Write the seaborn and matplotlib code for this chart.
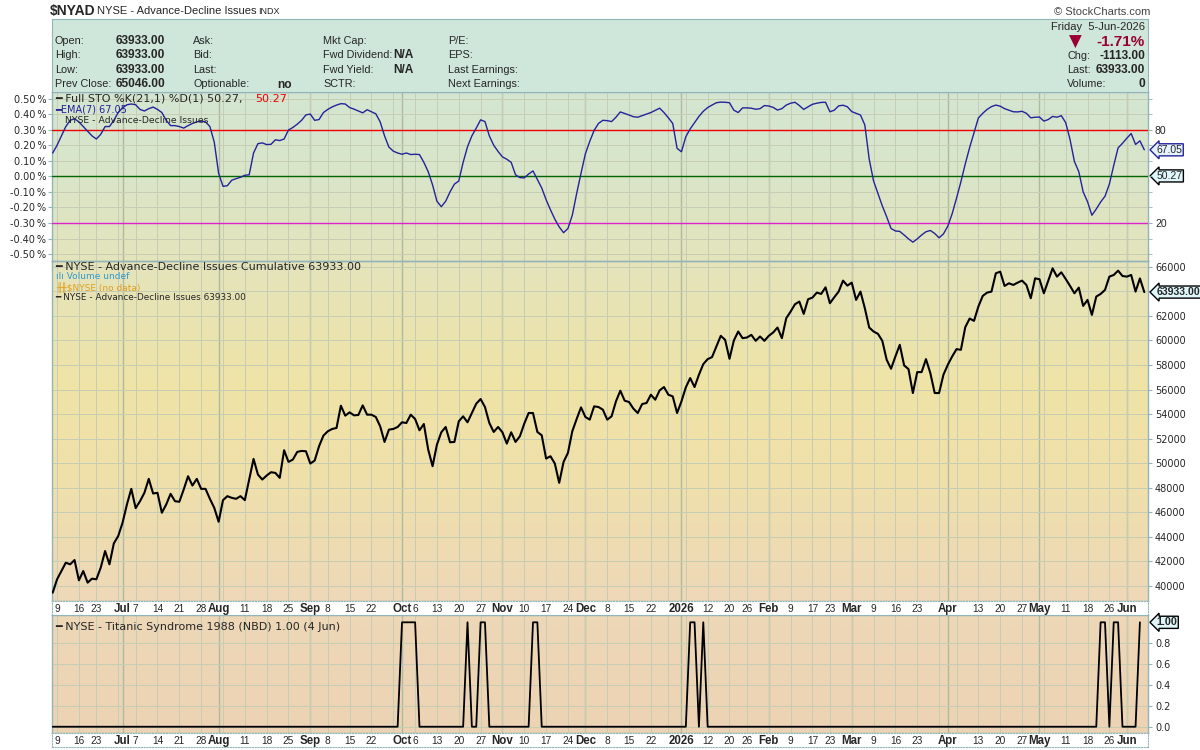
import numpy as np
import pandas as pd
import seaborn as sns
import matplotlib.pyplot as plt
from matplotlib.colors import LinearSegmentedColormap

sns.set_style("white")
plt.rcParams['font.family'] = ['Liberation Sans', 'DejaVu Sans']
DV = ['DejaVu Sans']

# NYSE trading days, 6-Jun-2025 .. 5-Jun-2026
holidays = ["2025-06-19", "2025-07-04", "2025-09-01", "2025-11-27", "2025-12-25",
            "2026-01-01", "2026-01-19", "2026-02-16", "2026-04-03", "2026-05-25"]
dates = pd.bdate_range("2025-06-06", "2026-06-05")
dates = dates[~dates.isin(pd.to_datetime(holidays))]

# cumulative advance-decline line
ad_line = [
    39460, 40547, 41222, 41900, 41766, 42118, 40466, 41222, 40276, 40600,
    40547, 41497, 42849, 41766, 43471, 44068, 45151, 46640, 47911, 46342,
    46910, 47588, 48724, 47533, 47588, 45966, 46640, 47507, 46910, 46857,
    47857, 48940, 48180, 48724, 47911, 47911, 47099, 46368, 45232, 46992,
    47317, 47181, 47099, 47317, 46992, 48670, 50350, 49077, 48670, 48995,
    49265, 49211, 48805, 51054, 50106, 50296, 50919, 51000, 50973, 49971,
    50215, 51380, 52246, 52598, 52788, 52869, 54683, 53871, 54141, 53898,
    53925, 54710, 53952, 53952, 53762, 53004, 51731, 52733, 52788, 52950,
    53329, 53275, 53952, 53600, 52679, 53193, 51108, 49754, 51514, 52517,
    52950, 51704, 51731, 53410, 53816, 53329, 54087, 54845, 55225, 54575,
    53275, 52544, 52950, 52517, 51596, 52517, 51731, 52192, 53221, 54087,
    54087, 52544, 52273, 50377,
    50567, 49971, 48400, 50106, 50837, 52598, 53600, 54548, 53763, 53546,
    54629, 54575, 54358, 53546, 53817, 55035, 55902, 55089, 54981, 54440,
    54087, 54819, 54900, 55577, 55170, 55929, 56200, 55577, 55441, 54087,
    55035, 56173, 56931, 56200, 57201, 58068, 58474, 58637, 59503, 60370,
    60045, 58501, 59991, 60722, 60180, 60234, 60451, 59964, 60316, 59964,
    60370, 60641, 61047, 60180, 61805, 62347, 62942, 63159, 62157, 63349,
    63484, 63890, 63782, 64323, 63024, 63511, 63971, 64865, 64458, 64703,
    63294, 63971, 62617, 61047, 60722, 60532, 59964, 58420, 57689, 58691,
    59639, 57960, 57662, 55712, 57418, 57418, 58474, 57337, 55712, 55712,
    57201, 58014, 58691, 59287, 59233, 61074, 61778, 61588, 62753, 63619,
    63890, 63971, 65461, 65596, 64432, 64648, 64513, 64703, 64865, 64513,
    63430, 65055, 64973, 63836, 64865, 65867, 65190, 65542, 65000, 64432,
    63836, 64296, 62807, 63294, 62076, 63565, 63782, 64107, 65190, 65325,
    65677, 65244, 65190, 65325, 63971, 65046, 63933]

# EMA(7) of Full STO %K(21,1)
sto_ema = [
    65, 70, 76, 82, 86, 87, 85, 82, 79, 76,
    74, 77, 82, 82, 86, 91, 94, 96, 96.5, 96,
    93, 92, 93.5, 94.5, 93, 91, 86, 82.6, 82.6, 82,
    81, 82.6, 84, 85, 85.5, 85, 82, 72, 52, 43.6,
    44, 47.5, 48.5, 49.4, 50.7, 51, 65, 71, 71.5, 70.4,
    70.6, 73.5, 73, 74, 79.8, 81.4, 83.5, 86, 89.5, 90,
    86, 86.5, 91, 93, 94.6, 95.8, 96.7, 96.5, 94.2, 93.2,
    92, 90.8, 92.8, 91.5, 90.2, 85, 76, 68.8, 66.2, 65,
    64.2, 65, 64, 64.2, 64, 59, 53, 44.5, 34, 30.5,
    34, 40, 45, 47, 59, 69, 76, 81, 86.3, 85.2,
    76, 70, 66, 62.5, 61, 59, 51, 49.2, 49, 51.5,
    53.5, 48, 42.5, 35, 28.5, 22.5, 17.5, 13.8, 16.5, 25,
    39, 52, 64.5, 72.5, 79.5, 84, 86, 85.8, 85.2, 88,
    91.4, 90.4, 89.4, 88.3, 88, 89, 90, 91, 92.4, 93.8,
    91, 87.6, 84, 68, 65.8, 75.5, 80.5, 84.5, 88.5, 91.8,
    94.2, 95.8, 97.3, 97.7, 97.6, 97.3, 92.5, 91, 94, 94,
    93.8, 93.1, 93.5, 95.5, 95.2, 94.3, 92.6, 93.5, 95.8, 97,
    97.6, 95.5, 93, 94.7, 96.3, 97, 97.5, 97.6, 91.5, 92.5,
    95.3, 95.7, 94.7, 91.6, 90.5, 89.4, 83, 61, 47, 39,
    31, 24, 16.5, 14.9, 14.6, 12.3, 9.8, 7.7, 9.8, 12.3,
    14.4, 15.2, 13.3, 10.5, 13, 18, 26, 36, 46.5, 58,
    68.5, 78, 87.5, 90.5, 93, 94.8, 95.8, 95.1, 93.5, 92.5,
    91.5, 91.4, 91.8, 90.5, 87.6, 88, 88.1, 85.5, 86.5, 88.5,
    88, 89, 84.5, 73.6, 59.5, 53, 40, 33.7, 25, 29,
    33.5, 37.2, 45, 57, 68.3, 71.2, 74.5, 77.5, 70.5, 72.8,
    67.05]

# days flagged by Titanic Syndrome (value 1), series ends 4-Jun
titanic_on = ["2025-10-01", "2025-10-02", "2025-10-03", "2025-10-06", "2025-10-22",
              "2025-10-27", "2025-10-28", "2025-11-12", "2025-11-13",
              "2026-01-06", "2026-01-07", "2026-01-09",
              "2026-05-21", "2026-05-22", "2026-05-27", "2026-05-28", "2026-06-04"]

tick_dates = ["2025-06-09", "2025-06-16", "2025-06-23", "2025-07-01", "2025-07-07", "2025-07-14",
              "2025-07-21", "2025-07-28", "2025-08-01", "2025-08-11", "2025-08-18", "2025-08-25",
              "2025-09-02", "2025-09-08", "2025-09-15", "2025-09-22", "2025-10-01", "2025-10-06",
              "2025-10-13", "2025-10-20", "2025-10-27", "2025-11-03", "2025-11-10", "2025-11-17",
              "2025-11-24", "2025-12-01", "2025-12-08", "2025-12-15", "2025-12-22", "2026-01-02",
              "2026-01-12", "2026-01-20", "2026-01-26", "2026-02-02", "2026-02-09", "2026-02-17",
              "2026-02-23", "2026-03-02", "2026-03-09", "2026-03-16", "2026-03-23", "2026-04-01",
              "2026-04-13", "2026-04-20", "2026-04-27", "2026-05-01", "2026-05-11", "2026-05-18",
              "2026-05-26", "2026-06-01"]
tick_labels = ["9", "16", "23", "Jul", "7", "14", "21", "28", "Aug", "11", "18", "25",
               "Sep", "8", "15", "22", "Oct", "6", "13", "20", "27", "Nov", "10", "17",
               "24", "Dec", "8", "15", "22", "2026", "12", "20", "26", "Feb", "9", "17",
               "23", "Mar", "9", "16", "23", "Apr", "13", "20", "27", "May", "11", "18",
               "26", "Jun"]

df = pd.DataFrame({"day": np.arange(len(dates)), "date": dates, "ad": ad_line, "sto": sto_ema})
tdf = df.iloc[:-1].copy()
tdf["titanic"] = tdf["date"].isin(pd.to_datetime(titanic_on)).astype(int)

pos = {d: i for i, d in enumerate(dates)}
tick_idx = [pos[pd.Timestamp(d)] for d in tick_dates]
week_idx = [i for i in range(1, len(dates)) if dates[i].isocalendar()[1] != dates[i - 1].isocalendar()[1]]
month_idx = [i for i in range(1, len(dates)) if dates[i].month != dates[i - 1].month]

W, H = 1200, 750
fig = plt.figure(figsize=(12, 7.5), dpi=100)


def box(x0, y0, x1, y1):
    return [x0 / W, 1 - y1 / H, (x1 - x0) / W, (y1 - y0) / H]


def ftxt(x, y, s, **kw):
    kw.setdefault("va", "center")
    kw.setdefault("fontsize", 7.8)
    fig.text(x / W, 1 - y / H, s, **kw)


frame_c = "#93b4b8"
grid_c = "#c6cdb4"
month_c = "#aebaa0"

# background gradient running through all panels
stops = [(19, "#cfe6da"), (170, "#d9e5c9"), (262, "#e4e4bb"), (390, "#f0e3a6"),
         (480, "#efe0ab"), (600, "#eed8b8"), (733, "#ecd3b3")]
cmap = LinearSegmentedColormap.from_list("bg", [((y - 19) / (733 - 19), c) for y, c in stops])
bg = fig.add_axes(box(52, 19, 1148, 733), zorder=0)
bg.imshow(np.linspace(0, 1, 600).reshape(-1, 1), aspect="auto", cmap=cmap, extent=(0, 1, 0, 1))
bg.axis("off")

xlim = (-0.16, len(dates) - 1 + 0.85)


def panel(rect):
    ax = fig.add_axes(rect, zorder=2)
    ax.set_facecolor("none")
    ax.set_xlim(*xlim)
    ax.set_xticks(week_idx)
    ax.tick_params(axis="x", length=0, labelbottom=False)
    ax.grid(axis="x", color=grid_c, lw=0.7)
    ax.grid(axis="y", color=grid_c, lw=0.7)
    for m in month_idx:
        ax.axvline(m, color=month_c, lw=1.0, zorder=0.5)
    for s in ax.spines.values():
        s.set_color(frame_c)
        s.set_linewidth(1)
    return ax


# header block
hdr = fig.add_axes(box(52, 19, 1148, 92), zorder=3)
hdr.set_facecolor("#cfe6da")
hdr.set_xticks([])
hdr.set_yticks([])
for s in hdr.spines.values():
    s.set_color(frame_c)

ftxt(50, 11, "$NYAD", fontweight="bold", fontsize=10)
ftxt(97, 11, "NYSE - Advance-Decline Issues", fontsize=8)
ftxt(258, 12, "INDX", fontsize=6.5)
ftxt(1150, 12, "© StockCharts.com", fontsize=8, ha="right", color="#444444")

rows = [41, 55, 70, 84]
for y, lab, val in zip(rows, ["Open:", "High:", "Low:", "Prev Close:"],
                       ["63933.00", "63933.00", "63933.00", "65046.00"]):
    ftxt(55, y, lab)
    ftxt(165, y, val, fontweight="bold", ha="right", fontsize=8.6)
for y, lab in zip(rows, ["Ask:", "Bid:", "Last:", "Optionable:"]):
    ftxt(193, y, lab)
ftxt(277, 85, "no", fontweight="bold", fontsize=8.6)
for y, lab in zip(rows, ["Mkt Cap:", "Fwd Dividend:", "Fwd Yield:", "SCTR:"]):
    ftxt(323, y, lab)
ftxt(393, 55, "N/A", fontweight="bold", fontsize=8.6)
ftxt(393, 70, "N/A", fontweight="bold", fontsize=8.6)
for y, lab in zip(rows, ["P/E:", "EPS:", "Last Earnings:", "Next Earnings:"]):
    ftxt(448, y, lab)
ftxt(1145, 27, "Friday  5-Jun-2026", ha="right", fontsize=8)
ftxt(1075, 42, "▼", color="#990033", fontsize=12, ha="center", family=DV)
ftxt(1145, 42, "-1.71%", color="#990033", fontsize=11, fontweight="bold", ha="right")
ftxt(1067, 56, "Chg:")
ftxt(1145, 56, "-1113.00", fontweight="bold", ha="right", fontsize=8.6)
ftxt(1067, 70, "Last:")
ftxt(1145, 70, "63933.00", fontweight="bold", ha="right", fontsize=8.6)
ftxt(1067, 84, "Volume:")
ftxt(1145, 84, "0", fontweight="bold", ha="right", fontsize=8.6)

# STO panel
ax_sto = panel(box(52, 92, 1148, 261))
sns.lineplot(data=df, x="day", y="sto", ax=ax_sto, color="#23239a", lw=1.0, zorder=4)
ax_sto.set_ylim(-4.4, 104.2)
ax_sto.set_yticks(range(0, 101, 10))
ax_sto.set_yticklabels([f"{(v - 50) / 100:.2f}\u2009%" for v in range(0, 101, 10)],
                       fontsize=7, family=DV)
ax_sto.tick_params(axis="y", length=3, color=frame_c, pad=1)
ax_sto.axhline(80, color="#ee0000", lw=1, zorder=3)
ax_sto.axhline(50, color="#006600", lw=1, zorder=3)
ax_sto.axhline(20, color="#dd22cc", lw=1, zorder=3)
ax_sto.set_xlabel("")
ax_sto.set_ylabel("")
sto_r = ax_sto.twinx()
sto_r.set_ylim(ax_sto.get_ylim())
sto_r.set_yticks([20, 80])
sto_r.set_yticks(range(0, 101, 10), minor=True)
sto_r.tick_params(axis="y", which="both", length=3, color=frame_c, labelsize=7.5, pad=2)
sto_r.set_xlim(*xlim)
for s in sto_r.spines.values():
    s.set_visible(False)

ax_sto.text(0.003, 0.96, "━ Full STO %K(21,1) %D(1) 50.27, ", transform=ax_sto.transAxes,
            fontsize=8, va="center", zorder=6, family=DV)
ax_sto.text(0.185, 0.96, "50.27", transform=ax_sto.transAxes, fontsize=8, va="center",
            color="#ee0000", zorder=6, family=DV)
ax_sto.text(0.003, 0.895, "━EMA(7) 67.05", transform=ax_sto.transAxes, fontsize=7,
            va="center", color="#23239a", zorder=6, family=DV)
ax_sto.text(0.012, 0.83, "NYSE - Advance-Decline Issues", transform=ax_sto.transAxes,
            fontsize=6.7, va="center", zorder=6, family=DV)

# price panel
ax_pr = panel(box(52, 261, 1148, 601))
sns.lineplot(data=df, x="day", y="ad", ax=ax_pr, color="black", lw=1.5, zorder=4)
ax_pr.set_ylim(38781, 66463)
price_ticks = list(range(40000, 66001, 2000))
ax_pr.set_yticks(price_ticks)
# 64000 sits under the last-value flag
ax_pr.set_yticklabels(["" if v == 64000 else str(v) for v in price_ticks], family=DV)
ax_pr.yaxis.tick_right()
ax_pr.tick_params(axis="y", length=3, color=frame_c, labelsize=7, pad=2)
ax_pr.set_xlabel("")
ax_pr.set_ylabel("")
ax_pr.text(0.003, 0.983, "━ NYSE - Advance-Decline Issues Cumulative 63933.00",
           transform=ax_pr.transAxes, fontsize=8, va="center", zorder=6, family=DV)
ax_pr.text(0.004, 0.953, "ılı Volume undef", transform=ax_pr.transAxes, fontsize=6.5,
           va="center", color="#3399cc", zorder=6, family=DV)
ax_pr.text(0.004, 0.923, "╫╫$NYSE (no data)", transform=ax_pr.transAxes, fontsize=6.5,
           va="center", color="#e0a020", zorder=6, family=DV)
ax_pr.text(0.003, 0.893, "━ NYSE - Advance-Decline Issues 63933.00",
           transform=ax_pr.transAxes, fontsize=6.4, va="center", zorder=6, family=DV)

# Titanic panel
ax_t = panel(box(52, 615, 1148, 733))
sns.lineplot(data=tdf, x="day", y="titanic", ax=ax_t, color="black", lw=1.3, zorder=4)
ax_t.set_ylim(-0.06, 1.07)
ax_t.set_yticks([0, 0.2, 0.4, 0.6, 0.8])
ax_t.set_yticklabels(["0.0", "0.2", "0.4", "0.6", "0.8"], family=DV)
ax_t.yaxis.tick_right()
ax_t.tick_params(axis="y", length=3, color=frame_c, labelsize=7, pad=2)
ax_t.set_xlabel("")
ax_t.set_ylabel("")
ax_t.text(0.003, 0.9, "━ NYSE - Titanic Syndrome 1988 (NBD) 1.00 (4 Jun)",
          transform=ax_t.transAxes, fontsize=8, va="center", zorder=6, family=DV)

# date strips
for rect in [box(52, 601, 1148, 615), box(52, 733, 1148, 747)]:
    ds = fig.add_axes(rect, zorder=3)
    ds.set_facecolor("white")
    ds.set_xlim(*xlim)
    ds.set_ylim(0, 1)
    ds.set_xticks([])
    ds.set_yticks([])
    for s in ds.spines.values():
        s.set_color(frame_c)
        s.set_linestyle((0, (1, 1.5)))
    for i, lab in zip(tick_idx, tick_labels):
        bold = not lab.isdigit() or lab == "2026"
        ds.text(i, 0.45, lab, ha="center", va="center", fontsize=8.3 if bold else 7.3,
                fontweight="bold" if bold else "normal")


# right-hand value flags
def flag(ax, y, s, ec, bold=False, fc="#dff7fb", size=7.5):
    ax.annotate(s, xy=(1.0, y), xycoords=("axes fraction", "data"), xytext=(6, 0),
                textcoords="offset points", va="center", ha="left", fontsize=size,
                fontweight="bold" if bold else "normal", annotation_clip=False,
                bbox=dict(boxstyle="larrow,pad=0.1", fc=fc, ec=ec, lw=1), zorder=10)


flag(ax_sto, 67.05, "67.05", "#23239a", fc="#e6f2ff")
flag(ax_sto, 50.27, "50.27", "black")
flag(ax_pr, 63933, "63933.00", "black", bold=True, size=7.6)
flag(ax_t, 1.0, "1.00", "black", bold=True, size=7.8)

fig.savefig("out.png", dpi=100)
